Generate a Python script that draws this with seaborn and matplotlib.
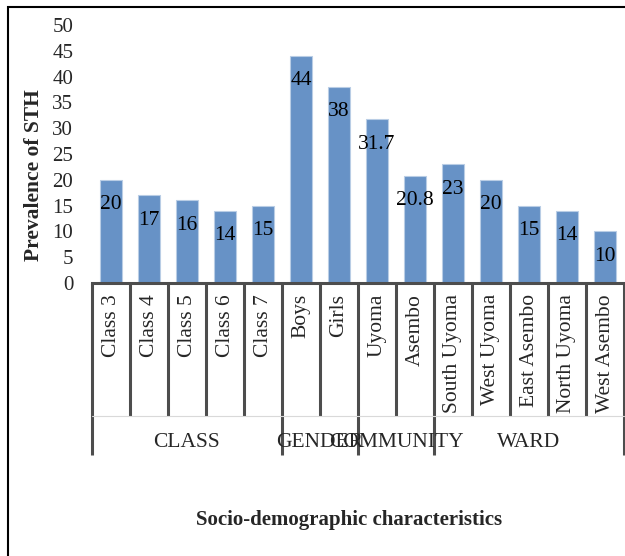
import pandas as pd
import matplotlib
matplotlib.use('Agg')
import matplotlib.pyplot as plt
import matplotlib.transforms as mtransforms
from matplotlib.patches import Rectangle
import seaborn as sns

# data
categories = ['Class 3', 'Class 4', 'Class 5', 'Class 6', 'Class 7',
              'Boys', 'Girls', 'Uyoma', 'Asembo',
              'South Uyoma', 'West Uyoma', 'East Asembo', 'North Uyoma', 'West Asembo']
prevalence = [20, 17, 16, 14, 15, 44, 38, 31.7, 20.8, 23, 20, 15, 14, 10]
value_labels = ['20', '17', '16', '14', '15', '44', '38', '31.7', '20.8', '23', '20', '15', '14', '10']
groups = ['CLASS', 'GENDER', 'COMMUNITY', 'WARD']
group_sizes = [5, 2, 2, 5]

sns.set_style('white')
plt.rcParams['font.family'] = ['Liberation Serif', 'DejaVu Serif']

df = pd.DataFrame({'category': categories, 'prevalence': prevalence})

W, H = 625, 556
fig = plt.figure(figsize=(W / 100, H / 100), dpi=100)
# axes placed in pixels: left 92, right 624, top 25, bottom 283
ax_l, ax_r, ax_t, ax_b = 92, 624, 25, 283
ax = fig.add_axes([ax_l / W, 1 - ax_b / H, (ax_r - ax_l) / W, (ax_b - ax_t) / H])

sns.barplot(data=df, x='category', y='prevalence', order=categories,
            color='#6792C6', width=0.58, saturation=1,
            edgecolor='#B9CDE5', linewidth=0.8, ax=ax)

for i, (v, lab) in enumerate(zip(prevalence, value_labels)):
    ax.annotate(lab, (i, v), xytext=(0, -25), textcoords='offset pixels',
                ha='center', va='center', fontsize=15.5, color='black')

ax.set_xlim(-0.5, len(categories) - 0.5)
ax.set_ylim(0, 50)
ax.set_yticks(range(0, 51, 5))
ax.tick_params(axis='y', length=0, pad=13.5, labelsize=15)
ax.tick_params(axis='x', length=0, pad=8, labelsize=15.5)
ax.set_xticks(range(len(categories)))
ax.set_xticklabels(categories, rotation=90, va='top')

for s in ['top', 'right', 'left']:
    ax.spines[s].set_visible(False)
ax.spines['bottom'].set_color('#4d4d4d')
ax.spines['bottom'].set_linewidth(2.2)

ax.set_xlabel('')
ax.set_ylabel('Prevalence of STH', fontsize=15.5, fontweight='bold')
ax.yaxis.set_label_coords(-0.09, 0.42)

# multi-level category axis separators
ah = ax_b - ax_t
y_lvl1 = -(416 - ax_b) / ah
y_lvl2 = -(455 - ax_b) / ah
y_grp = -(442 - ax_b) / ah
trans = mtransforms.blended_transform_factory(ax.transData, ax.transAxes)
bounds = [-0.5]
for g in group_sizes:
    bounds.append(bounds[-1] + g)
for k in range(len(categories) + 1):
    x = k - 0.5
    y_end = y_lvl2 if x in bounds else y_lvl1
    ax.plot([x, x], [0, y_end], transform=trans, color='#4d4d4d',
            lw=2.2, clip_on=False, solid_capstyle='butt')
ax.plot([-0.5, len(categories) - 0.5], [y_lvl1, y_lvl1], transform=trans,
        color='#d9d9d9', lw=0.8, clip_on=False)
for g, a, b in zip(groups, bounds[:-1], bounds[1:]):
    ax.text((a + b) / 2, y_grp, g, transform=trans, ha='center', va='center',
            fontsize=15.5)

fig.text(349 / W, 1 - 520 / H, 'Socio-demographic characteristics',
         ha='center', va='center', fontsize=15, fontweight='bold')

# chart border
fig.patches.append(Rectangle((8 / W, -0.1), 1.2, 1 - 7 / H + 0.1, transform=fig.transFigure,
                             fill=False, edgecolor='black', lw=1.5))

fig.savefig('out.png', dpi=100)
